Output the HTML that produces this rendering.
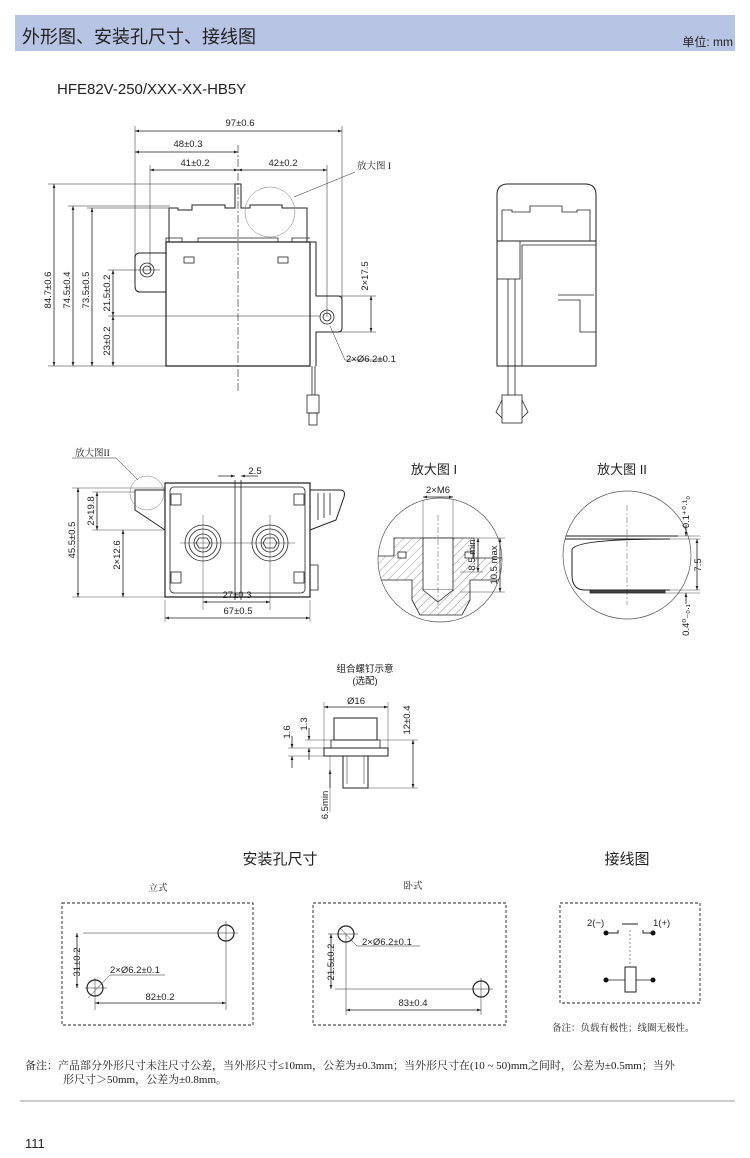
<!DOCTYPE html>
<html><head><meta charset="utf-8"><style>
html,body{margin:0;padding:0;background:#fff;width:750px;height:1158px;overflow:hidden}
svg{display:block}
text{font-family:"Liberation Sans","Noto Sans CJK SC",sans-serif;fill:#222}
.c{font-family:"Liberation Serif","Noto Serif CJK SC",serif}
</style></head><body>
<svg width="750" height="1158" viewBox="0 0 750 1158" xmlns="http://www.w3.org/2000/svg">
<defs>
<marker id="a" viewBox="0 0 10 10" refX="10" refY="5" markerWidth="7" markerHeight="5" orient="auto-start-reverse"><path d="M0,1.5L10,5L0,8.5z" fill="#222"/></marker>
<pattern id="h" width="6" height="6" patternUnits="userSpaceOnUse" patternTransform="rotate(45)"><line x1="0" y1="0" x2="0" y2="6" stroke="#666" stroke-width="0.7"/></pattern>
<clipPath id="c1"><circle cx="440" cy="560" r="62"/></clipPath>
<clipPath id="c2"><circle cx="627" cy="555" r="64"/></clipPath>
</defs>
<!-- header -->
<rect x="15" y="15" width="720" height="36" fill="#b8c4e4"/>
<text x="22" y="43" font-size="18" fill="#2a2a2a">外形图、安装孔尺寸、接线图</text>
<text x="733" y="46" font-size="12" text-anchor="end">单位: mm</text>
<text x="57" y="94" font-size="15">HFE82V-250/XXX-XX-HB5Y</text>

<g stroke="#222" fill="none" stroke-width="0.8" font-size="10">
<!-- front view -->
<line x1="238" y1="145" x2="238" y2="392" stroke-dasharray="8,2,2,2" stroke-width="0.6"/>
<line x1="135" y1="131" x2="342" y2="131" marker-start="url(#a)" marker-end="url(#a)"/>
<line x1="135" y1="152" x2="238" y2="152" marker-start="url(#a)" marker-end="url(#a)"/>
<line x1="150" y1="170" x2="238" y2="170" marker-start="url(#a)" marker-end="url(#a)"/>
<line x1="238" y1="170" x2="327" y2="170" marker-start="url(#a)" marker-end="url(#a)"/>
<line x1="135" y1="126" x2="135" y2="270" stroke-width="0.5"/>
<line x1="342" y1="126" x2="342" y2="300" stroke-width="0.5"/>
<line x1="150" y1="165" x2="150" y2="270" stroke-width="0.5"/>
<line x1="327" y1="165" x2="327" y2="317" stroke-width="0.5"/>
<path d="M166,242 H310 V366 H166 Z" stroke-width="1.2"/>
<path d="M169,242 V208 H178 V210 H192 V205 H225 V208 H235 V184 H241 V208 H250 V205 H282 V208 H307 V242" stroke-width="1"/>
<path d="M166,242 V238 H182 V242 M198,242 V238 H278 V242 M292,242 V238 H310" stroke-width="0.8"/>
<rect x="184" y="257" width="10" height="6"/><rect x="278" y="257" width="10" height="6"/>
<path d="M166,253 H140 Q135,253 135,258 V286 Q135,292 140,292 H166" stroke-width="1"/>
<circle cx="147" cy="270" r="7"/><circle cx="147" cy="270" r="4"/>
<path d="M310,242 H316 V296 H338 Q342,296 342,300 V328 Q342,332 338,332 H316 V366" stroke-width="1"/>
<circle cx="327" cy="317" r="7"/><circle cx="327" cy="317" r="4"/>
<path d="M312,366 V395 M315,366 V395"/>
<rect x="307" y="395" width="12" height="18"/><rect x="309" y="413" width="8" height="12"/>
<line x1="54" y1="184" x2="54" y2="366" marker-start="url(#a)" marker-end="url(#a)"/>
<line x1="73" y1="206" x2="73" y2="366" marker-start="url(#a)" marker-end="url(#a)"/>
<line x1="92" y1="208" x2="92" y2="366" marker-start="url(#a)" marker-end="url(#a)"/>
<line x1="113" y1="270" x2="113" y2="316" marker-start="url(#a)" marker-end="url(#a)"/>
<line x1="113" y1="316" x2="113" y2="366" marker-start="url(#a)" marker-end="url(#a)"/>
<g stroke-width="0.5"><line x1="48" y1="184" x2="235" y2="184"/><line x1="68" y1="206" x2="170" y2="206"/><line x1="87" y1="208" x2="170" y2="208"/><line x1="48" y1="366" x2="166" y2="366"/><line x1="108" y1="270" x2="160" y2="270"/><line x1="108" y1="316" x2="320" y2="316"/><line x1="316" y1="296" x2="376" y2="296"/><line x1="330" y1="332" x2="376" y2="332"/></g>
<line x1="371" y1="296" x2="371" y2="332" marker-start="url(#a)" marker-end="url(#a)"/>
<circle cx="270" cy="212" r="25" stroke-width="0.5" stroke="#777"/>
<line x1="294" y1="197" x2="355" y2="172" stroke-width="0.5"/>
<path d="M330,326 L345,360 H385" stroke-width="0.5"/>
<!-- side view -->
<path d="M497,241 V195 Q497,184 508,184 H585 Q596,184 596,195 V241" stroke-width="1"/>
<path d="M502,241 V210 H512 V212 H530 V206 H562 V212 H577 V210 H590 V241"/>
<rect x="497" y="241" width="99" height="125" stroke-width="1"/>
<rect x="497" y="241" width="23" height="38"/>
<line x1="522" y1="245" x2="522" y2="366"/><line x1="522" y1="245" x2="596" y2="245"/>
<path d="M558,295 H594 M558,300 H580 V332 H596"/>
<path d="M508,279 V395 M515,279 V395"/>
<rect x="502" y="395" width="20" height="28"/><path d="M502,400 L496,412 L502,418 M522,400 L528,412 L522,418"/>

<!-- bottom view -->
<path d="M165,483 H310 V597 H165 Z" stroke-width="1.2"/>
<rect x="170" y="487" width="135" height="106" rx="4"/>
<line x1="235" y1="480" x2="235" y2="600"/><line x1="241" y1="480" x2="241" y2="600"/>
<path d="M165,490 H135 V510 L165,530" stroke-width="1"/>
<path d="M310,490 H340 Q346,490 344,497 L336,520 L310,530" stroke-width="1"/>
<path d="M318,493 V520 M324,493 V518 M330,493 V515"/>
<path d="M310,565 H318 V590 H310"/>
<circle cx="203" cy="543" r="18"/><circle cx="203" cy="543" r="14"/><circle cx="203" cy="543" r="9"/><path d="M199,538 L207,538 L210,543 L207,548 L199,548 L196,543 Z"/>
<circle cx="270" cy="543" r="18"/><circle cx="270" cy="543" r="14"/><circle cx="270" cy="543" r="9"/><path d="M266,538 L274,538 L277,543 L274,548 L266,548 L263,543 Z"/>
<g stroke-width="0.4"><line x1="180" y1="543" x2="295" y2="543"/><line x1="203" y1="515" x2="203" y2="610"/><line x1="270" y1="515" x2="270" y2="610"/><line x1="165" y1="600" x2="165" y2="622"/><line x1="310" y1="600" x2="310" y2="622"/><line x1="72" y1="488" x2="165" y2="488"/><line x1="72" y1="597" x2="165" y2="597"/><line x1="92" y1="530" x2="165" y2="530"/><line x1="92" y1="492" x2="135" y2="492"/></g>
<rect x="171" y="494" width="10" height="11"/><rect x="294" y="494" width="10" height="11"/><rect x="171" y="572" width="10" height="11"/><rect x="294" y="572" width="10" height="11"/>
<line x1="78" y1="488" x2="78" y2="597" marker-start="url(#a)" marker-end="url(#a)"/>
<line x1="97" y1="492" x2="97" y2="530" marker-start="url(#a)" marker-end="url(#a)"/>
<line x1="123" y1="530" x2="123" y2="597" marker-start="url(#a)" marker-end="url(#a)"/>
<line x1="203" y1="602" x2="270" y2="602" marker-start="url(#a)" marker-end="url(#a)"/>
<line x1="165" y1="618" x2="310" y2="618" marker-start="url(#a)" marker-end="url(#a)"/>
<line x1="218" y1="476" x2="235" y2="476" marker-end="url(#a)"/><line x1="258" y1="476" x2="241" y2="476" marker-end="url(#a)"/>
<circle cx="147" cy="493" r="17" stroke-width="0.5" stroke="#777"/>
<path d="M72,458 H116 L138,480" stroke-width="0.5"/>

<!-- enlarge I -->
<circle cx="440" cy="560" r="62" stroke-width="0.7" stroke="#555"/>
<g clip-path="url(#c1)">
<path d="M372,556 H394 V538 H474 V558 H505 V580 H470 V600 L462,615 H420 L412,600 V580 H372 Z" fill="url(#h)" stroke="#222"/>
<rect x="423" y="538" width="30" height="52" fill="#fff"/>
<path d="M423,590 L438,602 L453,590" fill="#fff"/>
<rect x="398" y="552" width="8" height="6" fill="#fff"/><rect x="465" y="552" width="8" height="6" fill="#fff"/>
</g>
<line x1="438" y1="515" x2="438" y2="610" stroke-dasharray="6,2,2,2" stroke-width="0.4"/>
<line x1="423" y1="500" x2="423" y2="540" stroke-width="0.4"/><line x1="453" y1="500" x2="453" y2="540" stroke-width="0.4"/>
<line x1="423" y1="497" x2="453" y2="497" marker-start="url(#a)" marker-end="url(#a)"/>
<line x1="478" y1="538" x2="478" y2="572" marker-start="url(#a)" marker-end="url(#a)"/>
<line x1="500" y1="538" x2="500" y2="592" marker-start="url(#a)" marker-end="url(#a)"/>
<line x1="474" y1="538" x2="505" y2="538" stroke-width="0.4"/><line x1="460" y1="572" x2="483" y2="572" stroke-width="0.4"/><line x1="460" y1="592" x2="505" y2="592" stroke-width="0.4"/>

<!-- enlarge II -->
<circle cx="627" cy="555" r="64" stroke-width="0.7" stroke="#555"/>
<g clip-path="url(#c2)">
<path d="M560,536 H678 M560,539 H670 Q574,539 572,550 V575 Q572,590 585,590 H670" stroke-width="1"/>
<rect x="590" y="590" width="75" height="3" fill="#444"/>
</g>
<line x1="627" y1="505" x2="627" y2="605" stroke-dasharray="6,2,2,2" stroke-width="0.4"/>
<g stroke-width="0.4"><line x1="665" y1="536" x2="700" y2="536"/><line x1="665" y1="539" x2="700" y2="539"/><line x1="665" y1="590" x2="700" y2="590"/><line x1="665" y1="593" x2="700" y2="593"/></g>
<line x1="697" y1="539" x2="697" y2="590" marker-start="url(#a)" marker-end="url(#a)"/>
<line x1="686" y1="525" x2="686" y2="536" marker-end="url(#a)"/><line x1="686" y1="604" x2="686" y2="593" marker-end="url(#a)"/>

<!-- screw -->
<rect x="334" y="718" width="43" height="22" stroke-width="1"/>
<rect x="331" y="740" width="49" height="8"/>
<rect x="324" y="748" width="64" height="8" stroke-width="1"/>
<rect x="343" y="756" width="25" height="32" stroke-width="1"/>
<line x1="347" y1="756" x2="347" y2="784" stroke-width="0.5"/><line x1="364" y1="756" x2="364" y2="784" stroke-width="0.5"/>
<line x1="324" y1="707" x2="388" y2="707" marker-start="url(#a)" marker-end="url(#a)"/>
<g stroke-width="0.4"><line x1="324" y1="702" x2="324" y2="748"/><line x1="388" y1="702" x2="388" y2="748"/><line x1="288" y1="748" x2="324" y2="748"/><line x1="288" y1="756" x2="324" y2="756"/><line x1="305" y1="740" x2="331" y2="740"/><line x1="380" y1="740" x2="418" y2="740"/><line x1="368" y1="788" x2="418" y2="788"/><line x1="330" y1="756" x2="330" y2="812"/></g>
<line x1="413" y1="740" x2="413" y2="788" marker-start="url(#a)" marker-end="url(#a)"/>
<line x1="292" y1="736" x2="292" y2="748" marker-end="url(#a)"/><line x1="292" y1="768" x2="292" y2="756" marker-end="url(#a)"/>
<line x1="309" y1="728" x2="309" y2="740" marker-end="url(#a)"/><line x1="309" y1="760" x2="309" y2="748" marker-end="url(#a)"/>
<line x1="330" y1="770" x2="330" y2="788" marker-start="url(#a)"/>

<!-- mounting boxes -->
<g stroke-dasharray="3,2" stroke-width="0.9"><rect x="62" y="903" width="191" height="122"/><rect x="313" y="903" width="193" height="122"/><rect x="560" y="903" width="140" height="100"/></g>
<circle cx="226" cy="933" r="8" stroke-width="1.2"/><circle cx="95" cy="988" r="8" stroke-width="1.2"/>
<g stroke-width="0.5"><line x1="83" y1="933" x2="238" y2="933"/><line x1="85" y1="988" x2="107" y2="988"/><line x1="226" y1="921" x2="226" y2="1010"/><line x1="95" y1="978" x2="95" y2="1010"/></g>
<line x1="77" y1="933" x2="77" y2="988" marker-start="url(#a)" marker-end="url(#a)"/>
<line x1="95" y1="1003" x2="226" y2="1003" marker-start="url(#a)" marker-end="url(#a)"/>
<path d="M88,998 L110,975 H165" stroke-width="0.5"/>
<circle cx="346" cy="934" r="8" stroke-width="1.2"/><circle cx="481" cy="989" r="8" stroke-width="1.2"/>
<g stroke-width="0.5"><line x1="335" y1="989" x2="493" y2="989"/><line x1="346" y1="934" x2="346" y2="1015"/><line x1="481" y1="978" x2="481" y2="1015"/><line x1="328" y1="934" x2="358" y2="934"/></g>
<line x1="331" y1="934" x2="331" y2="989" marker-start="url(#a)" marker-end="url(#a)"/>
<line x1="346" y1="1010" x2="481" y2="1010" marker-start="url(#a)" marker-end="url(#a)"/>
<path d="M340,928 L357,946 H420" stroke-width="0.5"/>
<!-- wiring -->
<path d="M606,933 H618 V930 M643,930 V933 H653" stroke-width="1"/><line x1="622" y1="924" x2="638" y2="924" stroke-width="1"/>
<line x1="630" y1="930" x2="630" y2="967" stroke-dasharray="2,2" stroke-width="0.5"/>
<rect x="625" y="967" width="11" height="25" stroke-width="1"/>
<line x1="606" y1="980" x2="625" y2="980"/><line x1="636" y1="980" x2="653" y2="980"/>
</g>
<g fill="#111"><circle cx="606" cy="933" r="2.5"/><circle cx="653" cy="933" r="2.5"/><circle cx="606" cy="980" r="2.5"/><circle cx="653" cy="980" r="2.5"/></g>

<!-- labels -->
<g font-size="9.5">
<text x="240" y="126" text-anchor="middle">97±0.6</text>
<text x="188" y="147" text-anchor="middle">48±0.3</text>
<text x="195" y="166" text-anchor="middle">41±0.2</text>
<text x="283" y="166" text-anchor="middle">42±0.2</text>
<text x="357" y="169" class="c">放大图 I</text>
<text transform="translate(51,290) rotate(-90)" text-anchor="middle">84.7±0.6</text>
<text transform="translate(70,290) rotate(-90)" text-anchor="middle">74.5±0.4</text>
<text transform="translate(89,290) rotate(-90)" text-anchor="middle">73.5±0.5</text>
<text transform="translate(110,293) rotate(-90)" text-anchor="middle">21.5±0.2</text>
<text transform="translate(110,341) rotate(-90)" text-anchor="middle">23±0.2</text>
<text transform="translate(368,276) rotate(-90)" text-anchor="middle">2×17.5</text>
<text x="346" y="362">2×Ø6.2±0.1</text>
<text x="75" y="456" class="c">放大图II</text>
<text x="255" y="474" text-anchor="middle">2.5</text>
<text transform="translate(75,540) rotate(-90)" text-anchor="middle">45.5±0.5</text>
<text transform="translate(94,511) rotate(-90)" text-anchor="middle">2×19.8</text>
<text transform="translate(120,555) rotate(-90)" text-anchor="middle">2×12.6</text>
<text x="237" y="598" text-anchor="middle">27±0.3</text>
<text x="238" y="614" text-anchor="middle">67±0.5</text>
<text x="438" y="493" text-anchor="middle">2×M6</text>
<text transform="translate(475,555) rotate(-90)" text-anchor="middle">8.5 min</text>
<text transform="translate(497,565) rotate(-90)" text-anchor="middle">10.5 max</text>
<text transform="translate(689,512) rotate(-90)" text-anchor="middle">0.1⁺⁰·¹₀</text>
<text transform="translate(701,565) rotate(-90)" text-anchor="middle">7.5</text>
<text transform="translate(689,620) rotate(-90)" text-anchor="middle">0.4⁰₋₀.₁</text>
<text x="365" y="672" text-anchor="middle">组合螺钉示意</text>
<text x="365" y="684" text-anchor="middle">(选配)</text>
<text x="356" y="704" text-anchor="middle">Ø16</text>
<text transform="translate(290,732) rotate(-90)" text-anchor="middle">1.6</text>
<text transform="translate(307,724) rotate(-90)" text-anchor="middle">1.3</text>
<text transform="translate(410,720) rotate(-90)" text-anchor="middle">12±0.4</text>
<text transform="translate(328,805) rotate(-90)" text-anchor="middle">6.5min</text>
<text x="158" y="891" text-anchor="middle" class="c">立式</text>
<text x="413" y="889" text-anchor="middle" class="c">卧式</text>
<text transform="translate(80,962) rotate(-90)" text-anchor="middle">31±0.2</text>
<text x="110" y="973">2×Ø6.2±0.1</text>
<text x="160" y="1000" text-anchor="middle">82±0.2</text>
<text transform="translate(334,962) rotate(-90)" text-anchor="middle">21.5±0.2</text>
<text x="362" y="945">2×Ø6.2±0.1</text>
<text x="413" y="1006" text-anchor="middle">83±0.4</text>
<text x="587" y="926">2(−)</text>
<text x="653" y="926">1(+)</text>
<text x="552" y="1031" class="c">备注：负载有极性；线圈无极性。</text>
</g>
<text x="280" y="864" font-size="15" text-anchor="middle">安装孔尺寸</text>
<text x="627" y="864" font-size="15" text-anchor="middle">接线图</text>
<text x="434" y="474" font-size="13" text-anchor="middle">放大图 I</text>
<text x="622" y="474" font-size="13" text-anchor="middle">放大图 II</text>
<text x="25" y="1069" font-size="11" class="c">备注：产品部分外形尺寸未注尺寸公差，当外形尺寸≤10mm，公差为±0.3mm；当外形尺寸在(10 ~ 50)mm之间时，公差为±0.5mm；当外</text>
<text x="63" y="1083" font-size="11" class="c">形尺寸＞50mm，公差为±0.8mm。</text>
<line x1="20" y1="1101" x2="735" y2="1101" stroke="#999" stroke-width="1"/>
<text x="25" y="1148" font-size="13">111</text>
</svg>
</body></html>
